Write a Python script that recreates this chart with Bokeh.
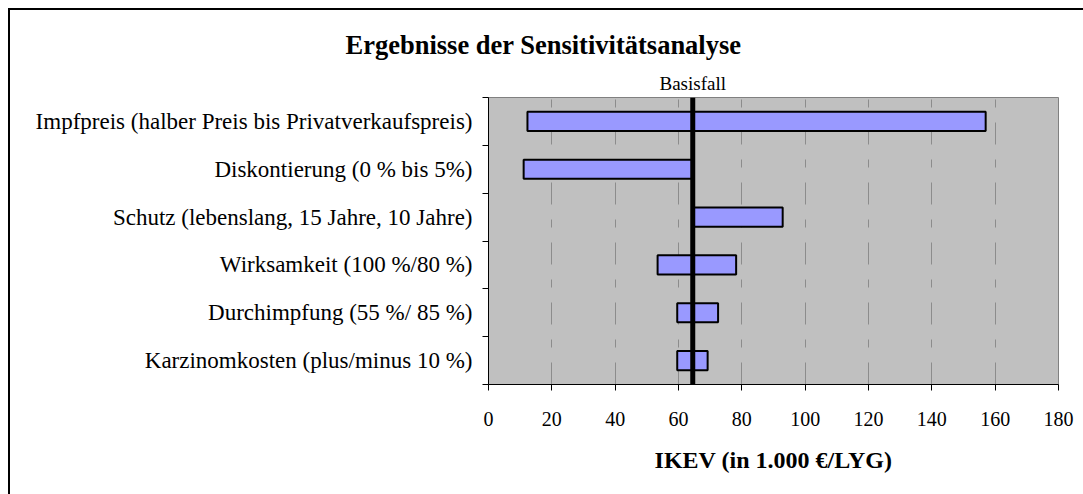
from bokeh.plotting import figure
from bokeh.models import Range1d, FixedTicker, Span, LinearAxis
from bokeh.embed import file_html
from bokeh.resources import INLINE

# ---- data ----
categories = [
    "Impfpreis (halber Preis bis Privatverkaufspreis)",
    "Diskontierung (0 % bis 5%)",
    "Schutz (lebenslang, 15 Jahre, 10 Jahre)",
    "Wirksamkeit (100 %/80 %)",
    "Durchimpfung (55 %/ 85 %)",
    "Karzinomkosten (plus/minus 10 %)",
]
low_values = [12.3, 11.1, 64.5, 53.4, 59.6, 59.6]
high_values = [157.0, 64.5, 92.9, 78.2, 72.5, 69.2]
basis_value = 64.5
x_ticks = [0, 20, 40, 60, 80, 100, 120, 140, 160, 180]
title_text = "Ergebnisse der Sensitivitätsanalyse"
basis_text = "Basisfall"
x_title = "IKEV (in 1.000 €/LYG)"

# ---- layout ----
W, H = 1075, 486
ML, MT, MR, MB = 480, 89, 25, 110
n = len(categories)
XMAX = 180
FONT = "Liberation Serif"

p = figure(width=W, height=H, output_backend="svg", toolbar_location=None,
           x_range=Range1d(0, XMAX), y_range=Range1d(0, n),
           min_border_left=ML, min_border_right=MR, min_border_top=MT,
           min_border_bottom=MB, background_fill_color="#C0C0C0",
           border_fill_color=None, margin=(8, 0, 0, 8),
           styles={"box-shadow": "inset 2px 2px 0 0 #000000"})
p.outline_line_color = "#808080"
p.outline_line_width = 1

ys = [n - i - 0.5 for i in range(n)]
p.hbar(y=ys, left=low_values, right=high_values, height=0.4,
       fill_color="#9999FF", line_color="black", line_width=2)

p.add_layout(Span(location=basis_value, dimension="height",
                  line_color="black", line_width=5))

# x axis
xa = p.xaxis[0]
xa.ticker = FixedTicker(ticks=x_ticks)
xa.major_tick_out = 6
xa.major_tick_in = 0
xa.minor_tick_line_color = None
xa.axis_line_color = "black"
xa.major_tick_line_color = "black"
xa.major_label_text_font = FONT
xa.major_label_text_font_size = "20px"
xa.major_label_text_color = "black"
xa.major_label_standoff = 21
xa.axis_label = x_title
xa.axis_label_text_font = FONT
xa.axis_label_text_font_style = "bold"
xa.axis_label_text_font_size = "24px"
xa.axis_label_text_color = "black"
xa.axis_label_standoff = 18

# "Basisfall" marker label via an axis above
top_axis = LinearAxis(ticker=FixedTicker(ticks=[basis_value]),
                      major_label_overrides={basis_value: basis_text})
top_axis.axis_line_color = None
top_axis.major_tick_line_color = None
top_axis.minor_tick_line_color = None
top_axis.major_tick_out = 0
top_axis.major_tick_in = 0
top_axis.major_label_standoff = 4
top_axis.major_label_text_font = FONT
top_axis.major_label_text_font_size = "19px"
top_axis.major_label_text_color = "black"
p.add_layout(top_axis, "above")

# y axis
ya = p.yaxis[0]
ya.ticker = FixedTicker(ticks=ys, minor_ticks=list(range(n + 1)))
ya.major_label_overrides = {y: c for y, c in zip(ys, categories)}
ya.major_tick_line_color = None
ya.major_tick_out = 6
ya.major_tick_in = 0
ya.minor_tick_out = 6
ya.minor_tick_in = 0
ya.minor_tick_line_color = "black"
ya.axis_line_color = "black"
ya.major_label_text_font = FONT
ya.major_label_text_font_size = "23px"
ya.major_label_text_color = "black"
ya.major_label_standoff = 10

p.ygrid.grid_line_color = None
p.xgrid.ticker = FixedTicker(ticks=x_ticks)
p.xgrid.grid_line_color = "#8C8C8C"
p.xgrid.grid_line_dash = "22 15 8 15"
p.xgrid.grid_line_width = 1

# title
p.title.text = title_text
p.title.align = "left"
p.title.offset = -143
p.title.text_font = FONT
p.title.text_font_style = "bold"
p.title.text_font_size = "26.5px"
p.title.text_color = "black"
p.title.standoff = 20

open("out.html", "w").write(file_html(p, INLINE))
